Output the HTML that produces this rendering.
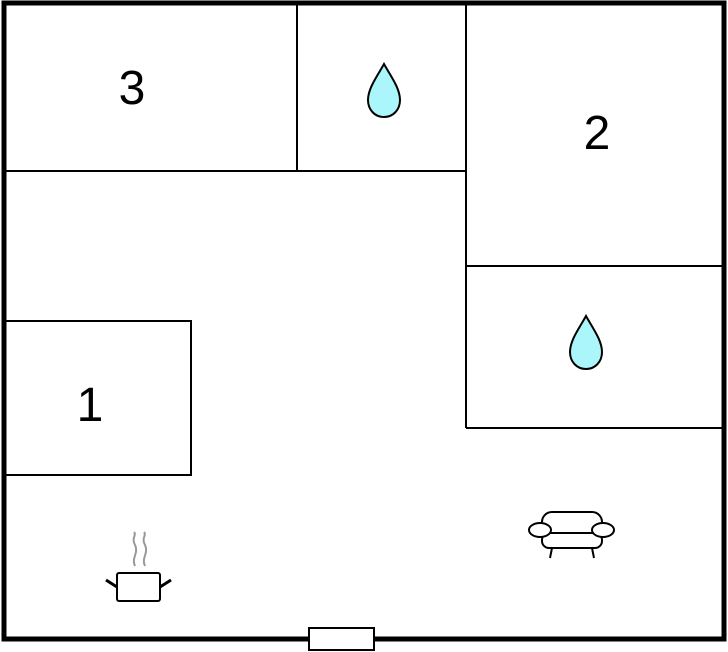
<!DOCTYPE html>
<html><head><style>body{margin:0;background:#fff}svg{display:block}</style></head>
<body>
<svg width="728" height="652" viewBox="0 0 728 652" xmlns="http://www.w3.org/2000/svg">
<rect x="0" y="0" width="728" height="652" fill="#fff"/>
<g stroke="#000" stroke-width="2" fill="none">
<line x1="4" y1="171" x2="466" y2="171"/>
<line x1="297" y1="3" x2="297" y2="171"/>
<line x1="466" y1="3" x2="466" y2="428"/>
<line x1="466" y1="266" x2="724" y2="266"/>
<line x1="466" y1="428" x2="724" y2="428"/>
<rect x="4" y="321" width="187" height="154"/>
</g>
<rect x="4" y="3" width="720" height="636" fill="none" stroke="#000" stroke-width="5"/>
<rect x="309" y="628" width="65" height="22" fill="#fff" stroke="#000" stroke-width="2"/>
<g font-family="Liberation Sans, sans-serif" font-size="48" text-anchor="middle">
<text x="132" y="104">3</text>
<text x="597" y="149">2</text>
<text x="90" y="421">1</text>
</g>
<g fill="#aaf6fa" stroke="#000" stroke-width="2">
<path d="M384,64 C378,75 368,88 368,100 C368,110 375,117 384,117 C393,117 400,110 400,100 C400,88 390,75 384,64Z"/>
<path d="M586,316 C580,327 570,340 570,352 C570,362 577,369 586,369 C595,369 602,362 602,352 C602,340 592,327 586,316Z"/>
</g>
<g stroke="#999" stroke-width="2" fill="none">
<path d="M135,566 C131,558 139,553 135,545 C131,538 137,535 134,532"/>
<path d="M145,566 C141,558 149,553 145,545 C141,538 147,535 144,532"/>
</g>
<rect x="117" y="573" width="43" height="28" rx="2" fill="#fff" stroke="#000" stroke-width="2"/>
<g stroke="#000" stroke-width="3"><line x1="106" y1="580" x2="117" y2="587"/><line x1="160" y1="587" x2="171" y2="580"/></g>
<g stroke="#000" stroke-width="2" fill="#fff">
<rect x="542" y="512" width="60" height="25" rx="10"/>
<rect x="542" y="533" width="60" height="15" rx="7"/>
<ellipse cx="540" cy="530" rx="11" ry="7"/>
<ellipse cx="603" cy="530" rx="11" ry="7"/>
<line x1="552" y1="548" x2="550" y2="558"/>
<line x1="592" y1="548" x2="594" y2="558"/>
</g>
</svg>
</body></html>
